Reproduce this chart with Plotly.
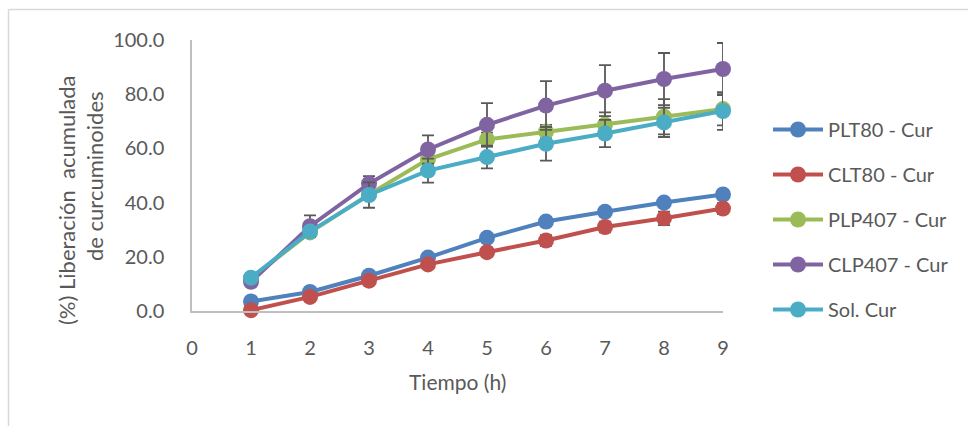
import plotly.graph_objects as go

# ---- data ----
tiempo = [1, 2, 3, 4, 5, 6, 7, 8, 9]
series_names = ["PLT80 - Cur", "CLT80 - Cur", "PLP407 - Cur", "CLP407 - Cur", "Sol. Cur"]
plt80 = [3.5, 7.0, 13.0, 19.7, 27.0, 33.0, 36.6, 40.0, 43.0]
clt80 = [0.3, 5.2, 11.2, 17.2, 21.7, 26.0, 31.0, 34.2, 37.8]
plp407 = [12.0, 29.0, 43.0, 56.0, 63.3, 66.2, 68.8, 71.7, 74.5]
clp407 = [10.8, 31.3, 47.0, 59.6, 68.7, 75.8, 81.3, 85.6, 89.3]
solcur = [12.3, 29.3, 42.8, 51.8, 56.8, 61.7, 65.5, 69.6, 73.8]

err_plt80 = [0.5, 1.0, 1.0, 1.0, 1.2, 1.3, 1.5, 1.5, 1.5]
err_clt80 = [0.5, 1.0, 1.0, 1.2, 1.5, 2.0, 2.0, 2.5, 2.0]
err_plp407 = [1.0, 1.0, 1.5, 2.0, 2.5, 2.5, 4.5, 6.5, 6.0]
err_clp407 = [1.0, 4.0, 2.8, 5.2, 8.0, 9.0, 9.4, 9.6, 9.6]
err_solcur = [1.0, 1.5, 4.7, 4.4, 4.2, 6.2, 5.0, 5.4, 7.0]

y_ticks = [0, 20, 40, 60, 80, 100]
x_ticks = [0, 1, 2, 3, 4, 5, 6, 7, 8, 9]

colors = ["#4F81BD", "#C0504D", "#9BBB59", "#8064A2", "#4BACC6"]
values = [plt80, clt80, plp407, clp407, solcur]
errors = [err_plt80, err_clt80, err_plp407, err_clp407, err_solcur]

FONT = "Lato"
TXT = "#595959"

fig = go.Figure()
for name, col, v, e in zip(series_names, colors, values, errors):
    fig.add_trace(go.Scatter(
        x=tiempo, y=v, name=name, mode="lines+markers",
        line=dict(color=col, width=4),
        marker=dict(color=col, size=16),
        error_y=dict(type="data", array=e, visible=True, color="#595959",
                     thickness=1.8, width=6),
        cliponaxis=False, legendgroup=name,
    ))

# plot area in pixels: x 192..723, y 40..311
L, R, T, B = 192, 723, 40, 311
W, H = 968, 426

def px(xp):
    return (xp - L) / (R - L)

def py(yp):
    return (B - yp) / (B - T)

fig.update_layout(
    width=W, height=H,
    margin=dict(l=L, r=W - R, t=T, b=H - B, pad=0),
    paper_bgcolor="white", plot_bgcolor="white",
    font=dict(family=FONT, color=TXT, size=20),
    showlegend=True,
    legend=dict(x=px(768), y=py(110), xanchor="left", yanchor="top",
                font=dict(size=20, color=TXT, family=FONT),
                tracegroupgap=16, itemwidth=50, bgcolor="rgba(0,0,0,0)"),
    xaxis=dict(range=[0, 9], tickvals=x_ticks, showgrid=False, zeroline=False,
               showline=True, linecolor="#BFBFBF", linewidth=1.5, ticks="",
               ticklabelstandoff=18, tickfont=dict(size=20, family=FONT, color=TXT),
               fixedrange=True),
    yaxis=dict(range=[0, 100], tickvals=y_ticks, tickformat=".1f", showgrid=False,
               zeroline=False, showline=True, linecolor="#BFBFBF", linewidth=1.5,
               ticks="", ticklabelstandoff=22,
               tickfont=dict(size=20, family=FONT, color=TXT), fixedrange=True),
    annotations=[
        dict(text="Tiempo (h)", x=px(457), y=py(381), xref="paper", yref="paper",
             showarrow=False, xanchor="center", yanchor="middle",
             font=dict(size=21, family=FONT, color=TXT)),
        dict(text="(%) Liberación  acumulada", x=px(66), y=py(200), xref="paper", yref="paper",
             showarrow=False, xanchor="center", yanchor="middle", textangle=-90,
             font=dict(size=22, family=FONT, color=TXT)),
        dict(text="de curcuminoides", x=px(94), y=py(176), xref="paper", yref="paper",
             showarrow=False, xanchor="center", yanchor="middle", textangle=-90,
             font=dict(size=22, family=FONT, color=TXT)),
    ],
    shapes=[
        dict(type="line", xref="paper", yref="paper", x0=px(8.5), x1=px(968), y0=py(9.5), y1=py(9.5),
             line=dict(color="#D9D9D9", width=1.5)),
        dict(type="line", xref="paper", yref="paper", x0=px(8.5), x1=px(8.5), y0=py(9.5), y1=py(426),
             line=dict(color="#D9D9D9", width=1.5)),
    ],
)

fig.write_html("out.html", config={"displayModeBar": False},
               post_script="document.body.style.margin='0px';document.body.style.overflow='hidden';")
